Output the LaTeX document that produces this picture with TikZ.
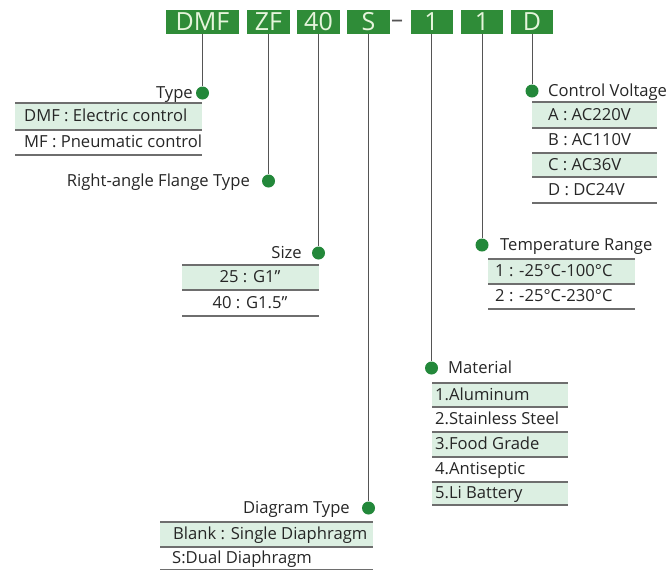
\documentclass[tikz,border=0pt]{standalone}
\usepackage{fontspec}
\setmainfont{Open Sans}
\usepackage{xcolor}
\usepackage{tikz}
\definecolor{boxgreen}{HTML}{2F8C38}
\definecolor{codetext}{HTML}{E6F5DC}
\definecolor{dotgreen}{HTML}{23883A}
\definecolor{bandgreen}{HTML}{DCEFE2}
\definecolor{rulegray}{HTML}{6E6E6E}
\definecolor{linkgray}{HTML}{555555}
\definecolor{txtgray}{HTML}{262626}

\begin{document}
\begin{tikzpicture}[x=1pt, y=-1pt,
  code/.style={fill=boxgreen, text=codetext, font=\fontsize{25}{25}\selectfont, inner sep=0pt, minimum height=24pt},
  dot/.style={circle, fill=dotgreen, inner sep=0pt, minimum size=13pt},
  lbl/.style={font=\fontsize{16.6}{16.6}\selectfont, text=txtgray, inner sep=0pt, text height=12pt, text depth=2pt},
  rule/.style={draw=rulegray, line width=1.4pt},
  band/.style={fill=bandgreen},
  link/.style={draw=linkgray, line width=1pt}]
  \useasboundingbox (0,0) rectangle (671,571);
  % code boxes
  \node[code, minimum width=73pt] (cDMF) at (202.5,22) {DMF};
  \node[code, minimum width=43pt] (cZF) at (268.5,22) {ZF};
  \node[code, minimum width=43pt] (cSize) at (318.5,22) {40};
  \node[code, minimum width=43pt] (cDia) at (368.5,22) {S};
  \node[font=\fontsize{24}{24}\selectfont, text=linkgray, inner sep=0pt] (cDash) at (397,24) {–};
  \node[code, minimum width=42pt] (cMat) at (431.5,22) {1};
  \node[code, minimum width=42pt] (cTemp) at (482,22) {1};
  \node[code, minimum width=42pt] (cVolt) at (532,22) {D};
  % dots
  \node[dot] (dType) at (202.5,93) {};
  \node[dot] (dFlange) at (268.5,181) {};
  \node[dot] (dSize) at (318.5,253) {};
  \node[dot] (dDia) at (368.5,508) {};
  \node[dot] (dMat) at (431.5,368) {};
  \node[dot] (dTemp) at (482,245) {};
  \node[dot] (dVolt) at (532,91) {};
  \draw[link] (cDMF.south) -- (dType);
  \draw[link] (cZF.south) -- (dFlange);
  \draw[link] (cSize.south) -- (dSize);
  \draw[link] (cDia.south) -- (dDia);
  \draw[link] (cMat.south) -- (dMat);
  \draw[link] (cTemp.south) -- (dTemp);
  \draw[link] (cVolt.south) -- (dVolt);
  % Type
  \node[lbl, anchor=east] (lType) at (193,93) {Type};
  \fill[band] (15,103) rectangle (202,130);
  \draw[rule] (15,103) -- (202,103);
  \draw[rule] (15,130) -- (202,130);
  \draw[rule] (15,155) -- (202,155);
  \node[lbl, anchor=west] (tType1) at (24,116.5) {DMF : Electric control};
  \node[lbl, anchor=west] (tType2) at (24,142.5) {MF : Pneumatic control};
  % Flange
  \node[lbl, anchor=east] (lFlange) at (250,181) {Right-angle Flange Type};
  % Size
  \node[lbl, anchor=east] (lSize) at (302,253) {Size};
  \fill[band] (182,265) rectangle (319,290);
  \draw[rule] (182,265) -- (319,265);
  \draw[rule] (182,290) -- (319,290);
  \draw[rule] (182,316) -- (319,316);
  \node[lbl] (tSize1) at (250,277.5) {25 : G1”};
  \node[lbl] (tSize2) at (250,303) {40 : G1.5”};
  % Diagram type
  \node[lbl, anchor=east] (lDia) at (350,508) {Diagram Type};
  \fill[band] (160,522) rectangle (373,547);
  \draw[rule] (160,522) -- (373,522);
  \draw[rule] (160,547) -- (373,547);
  \draw[rule] (160,569.5) -- (373,569.5);
  \node[lbl, anchor=west] (tDia1) at (173,534.5) {Blank : Single Diaphragm};
  \node[lbl, anchor=west] (tDia2) at (172,558.5) {S:Dual Diaphragm};
  % Material
  \node[lbl, anchor=west] (lMat) at (448,368) {Material};
  \fill[band] (432,383) rectangle (568,407);
  \fill[band] (432,432) rectangle (568,457);
  \fill[band] (432,482) rectangle (568,505);
  \draw[rule] (432,383) -- (568,383);
  \draw[rule] (432,407) -- (568,407);
  \draw[rule] (432,432) -- (568,432);
  \draw[rule] (432,457) -- (568,457);
  \draw[rule] (432,482) -- (568,482);
  \draw[rule] (432,505) -- (568,505);
  \node[lbl, anchor=west] (tMat1) at (435,395) {1.Aluminum};
  \node[lbl, anchor=west] (tMat2) at (435,419.5) {2.Stainless Steel};
  \node[lbl, anchor=west] (tMat3) at (435,444.5) {3.Food Grade};
  \node[lbl, anchor=west] (tMat4) at (435,469.5) {4.Antiseptic};
  \node[lbl, anchor=west] (tMat5) at (435,493.5) {5.Li Battery};
  % Temperature
  \node[lbl, anchor=west] (lTemp) at (500,245) {Temperature Range};
  \fill[band] (488,259) rectangle (635,284);
  \draw[rule] (488,259) -- (635,259);
  \draw[rule] (488,284) -- (635,284);
  \draw[rule] (488,309) -- (635,309);
  \node[lbl, anchor=west] (tTemp1) at (495,271.5) {1 : -25°C-100°C};
  \node[lbl, anchor=west] (tTemp2) at (495,296.5) {2 : -25°C-230°C};
  % Voltage
  \node[lbl, anchor=west] (lVolt) at (548,91) {Control Voltage};
  \fill[band] (532,102) rectangle (657,128);
  \fill[band] (532,153) rectangle (657,177);
  \draw[rule] (532,102) -- (657,102);
  \draw[rule] (532,128) -- (657,128);
  \draw[rule] (532,153) -- (657,153);
  \draw[rule] (532,177) -- (657,177);
  \draw[rule] (532,203) -- (657,203);
  \node[lbl, anchor=west] (tVolt1) at (548,115) {A : AC220V};
  \node[lbl, anchor=west] (tVolt2) at (548,140.5) {B : AC110V};
  \node[lbl, anchor=west] (tVolt3) at (548,165) {C : AC36V};
  \node[lbl, anchor=west] (tVolt4) at (548,190) {D : DC24V};
\end{tikzpicture}
\end{document}
